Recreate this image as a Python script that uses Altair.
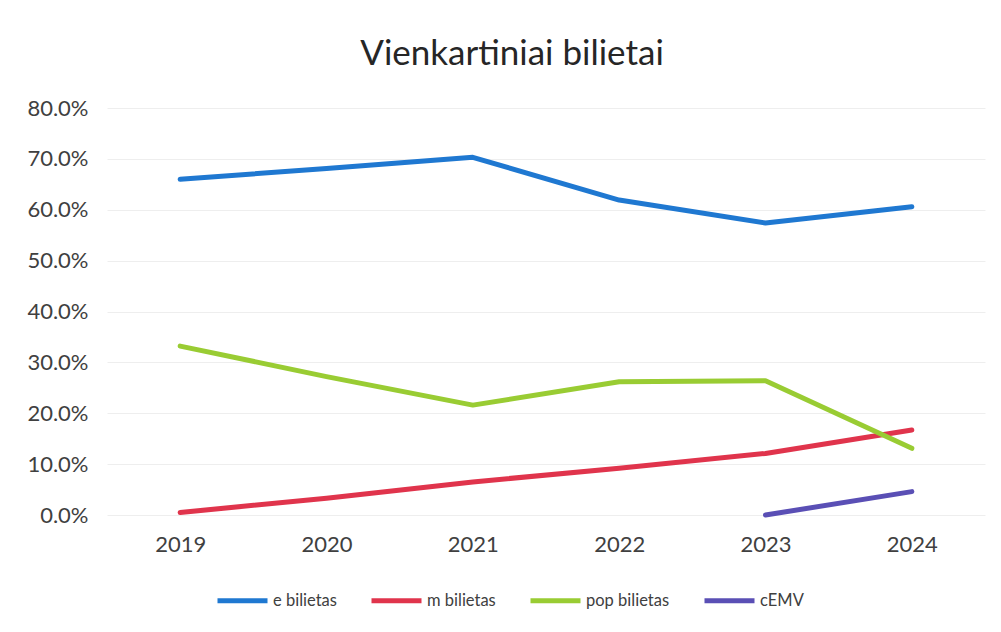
import altair as alt
import pandas as pd

years = ["2019", "2020", "2021", "2022", "2023", "2024"]
e_bilietas = [0.660, 0.681, 0.703, 0.619, 0.574, 0.606]
m_bilietas = [0.005, 0.033, 0.065, 0.092, 0.121, 0.167]
pop_bilietas = [0.332, 0.272, 0.216, 0.262, 0.264, 0.131]
cemv = [None, None, None, None, 0.000, 0.046]
series = ["e bilietas", "m bilietas", "pop bilietas", "cEMV"]
colors = ["#1f78d1", "#e0344c", "#99cc33", "#5a4fb5"]
y_ticks = [0.0, 0.1, 0.2, 0.3, 0.4, 0.5, 0.6, 0.7, 0.8]

rows = []
for name, vals in zip(series, [e_bilietas, m_bilietas, pop_bilietas, cemv]):
    for yr, v in zip(years, vals):
        if v is not None:
            rows.append({"year": yr, "value": v, "series": name})
df = pd.DataFrame(rows)

FONT = "Lato"

chart = (
    alt.Chart(df)
    .mark_line(strokeWidth=5, strokeCap="round", strokeJoin="round")
    .encode(
        x=alt.X(
            "year:N",
            sort=years,
            scale=alt.Scale(type="point", padding=0.5),
            axis=alt.Axis(
                title=None, labelAngle=0, domain=False, ticks=False, grid=False,
                labelFontSize=22, labelColor="#404040", labelPadding=19, labelFont=FONT,
            ),
        ),
        y=alt.Y(
            "value:Q",
            scale=alt.Scale(domain=[0, 0.8]),
            axis=alt.Axis(
                title=None, format=".1%", values=y_ticks, domain=False, ticks=False,
                gridColor="#eeeeee", gridWidth=1, labelFontSize=22, labelColor="#404040",
                labelPadding=19, labelFont=FONT,
            ),
        ),
        color=alt.Color(
            "series:N",
            scale=alt.Scale(domain=series, range=colors),
            legend=alt.Legend(
                title=None, orient="none", direction="horizontal",
                legendX=108, legendY=465,
                symbolType="stroke", symbolSize=2500, symbolStrokeWidth=5,
                labelFontSize=16.5, labelFont=FONT, labelColor="#404040",
                labelOffset=3, columnPadding=24,
            ),
        ),
        order=alt.Order("year:N"),
    )
    .properties(
        width=878,
        height=407,
        autosize=alt.AutoSizeParams(type="none"),
        padding={"left": 99, "top": 100, "right": 8, "bottom": 100},
        title=alt.TitleParams(
            "Vienkartiniai bilietai", fontSize=35, font=FONT, fontWeight="normal",
            color="#262626", anchor="middle", dx=-34, offset=25,
        ),
    )
    .configure_view(stroke=None)
)

chart.save("out.html", embed_options={"renderer": "svg", "actions": False})
